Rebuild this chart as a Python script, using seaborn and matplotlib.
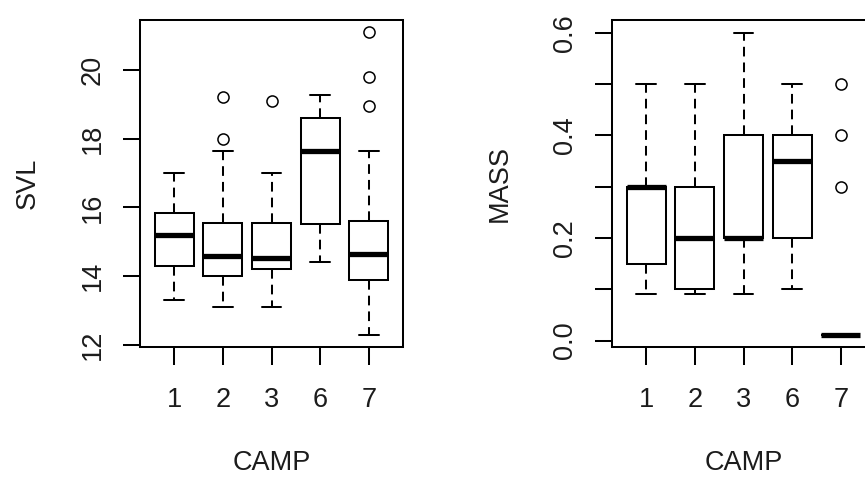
import matplotlib
matplotlib.use("Agg")
import matplotlib.pyplot as plt
import seaborn as sns
import pandas as pd

camps = ["1", "2", "3", "6", "7"]

svl_camp1 = [13.3, 14.3, 14.3, 15.2, 15.2, 15.2, 15.85, 15.85, 17.0]
svl_camp2 = [13.1, 14.0, 14.0, 14.0, 14.6, 14.6, 14.6, 15.55, 15.55, 15.55, 17.63, 18.0, 19.2]
svl_camp3 = [13.1, 14.2, 14.2, 14.2, 14.52, 14.52, 14.52, 15.55, 15.55, 15.55, 17.0, 17.0, 19.1]
svl_camp6 = [14.4, 15.53, 15.53, 17.65, 17.65, 17.65, 18.6, 18.6, 19.28]
svl_camp7 = [12.3, 13.9, 13.9, 13.9, 13.9, 14.66, 14.66, 14.66, 14.66,
             15.6, 15.6, 15.6, 15.6, 17.63, 18.94, 19.8, 21.1]

mass_camp1 = [0.09, 0.15, 0.15, 0.30, 0.30, 0.30, 0.30, 0.30, 0.50]
mass_camp2 = [0.09, 0.10, 0.10, 0.20, 0.20, 0.20, 0.30, 0.30, 0.50]
mass_camp3 = [0.09, 0.20, 0.20, 0.20, 0.20, 0.20, 0.40, 0.40, 0.60]
mass_camp6 = [0.10, 0.20, 0.20, 0.35, 0.35, 0.35, 0.40, 0.40, 0.50]
mass_camp7 = [0.01, 0.01, 0.01, 0.01, 0.01, 0.01, 0.01, 0.01, 0.01, 0.01, 0.30, 0.40, 0.50]

svl_groups = [svl_camp1, svl_camp2, svl_camp3, svl_camp6, svl_camp7]
mass_groups = [mass_camp1, mass_camp2, mass_camp3, mass_camp6, mass_camp7]

svl_ticks = [12, 14, 16, 18, 20]
mass_ticks = [0.0, 0.1, 0.2, 0.3, 0.4, 0.5, 0.6]
mass_ticklabels = ["0.0", "", "0.2", "", "0.4", "", "0.6"]


def long_frame(groups, name):
    rows = []
    for c, vals in zip(camps, groups):
        for v in vals:
            rows.append({"CAMP": c, name: v})
    return pd.DataFrame(rows)


svl_df = long_frame(svl_groups, "SVL")
mass_df = long_frame(mass_groups, "MASS")

# ---- style ----
sns.set_style("white")
plt.rcParams["font.family"] = ["Liberation Sans", "DejaVu Sans"]
TXT = "#1c1c1c"
FS = 19.5
LW = 1.45

fig = plt.figure(figsize=(8.65, 4.79), dpi=100)
ax1 = fig.add_axes([140 / 865, 132 / 479, 263 / 865, 327 / 479])
ax2 = fig.add_axes([612 / 865, 132 / 479, 263 / 865, 327 / 479])

box_kws = dict(
    order=camps,
    color="white",
    linecolor="black",
    linewidth=LW,
    width=0.8,
    whis=1.5,
    saturation=1,
    boxprops=dict(facecolor="white", edgecolor="black", linewidth=LW),
    whiskerprops=dict(color="black", linewidth=LW, linestyle=(0, (4.8, 3.0))),
    capprops=dict(color="black", linewidth=LW),
    medianprops=dict(color="black", linewidth=3.8, solid_capstyle="butt"),
    flierprops=dict(marker="o", markerfacecolor="none", markeredgecolor="black",
                    markersize=8, markeredgewidth=1.1),
)

sns.boxplot(data=svl_df, x="CAMP", y="SVL", ax=ax1, **box_kws)
sns.boxplot(data=mass_df, x="CAMP", y="MASS", ax=ax2, **box_kws)

ax1.set_ylim(11.94, 21.455)
ax2.set_ylim(-0.0125, 0.625)

for ax, ticks, labels, ylab in [
    (ax1, svl_ticks, [str(t) for t in svl_ticks], "SVL"),
    (ax2, mass_ticks, mass_ticklabels, "MASS"),
]:
    ax.set_xlim(-0.7, 4.7)
    ax.set_yticks(ticks)
    ax.set_yticklabels(labels)
    ax.set_xticks(range(len(camps)))
    ax.set_xticklabels(camps)
    for s in ax.spines.values():
        s.set_visible(True)
        s.set_linewidth(LW)
        s.set_color("black")
    ax.tick_params(axis="y", direction="out", length=12.5, width=LW, color="black",
                   pad=12, labelsize=FS, labelcolor=TXT, labelrotation=90,
                   left=True, right=False)
    ax.tick_params(axis="x", direction="out", length=13, width=LW, color="black",
                   pad=16, labelsize=FS, labelcolor=TXT, bottom=True, top=False)
    for lab in ax.get_yticklabels():
        lab.set_verticalalignment("center")
    ax.set_xlabel("CAMP", fontsize=FS, color=TXT)
    ax.set_ylabel(ylab, fontsize=FS, color=TXT)
    ax.xaxis.set_label_coords(0.5, -0.315)
    ax.yaxis.set_label_coords(-0.376, 0.5)
    ax.grid(False)
    ax.set_facecolor("white")

fig.savefig("out.png", dpi=100, facecolor="white")
